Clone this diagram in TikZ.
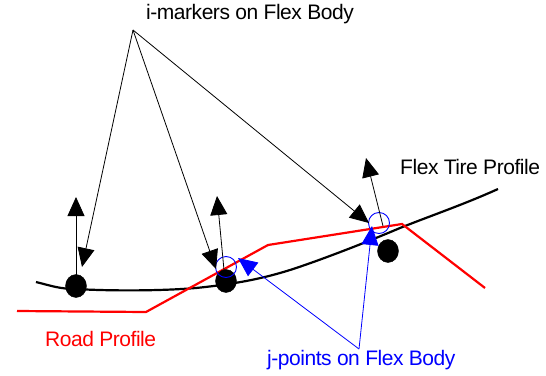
\documentclass[tikz,border=0pt]{standalone}
\usepackage{fontspec}
\setmainfont[LetterSpace=-2.2]{Liberation Sans}
\usetikzlibrary{arrows.meta,shapes.geometric}

\begin{document}
\begin{tikzpicture}[
    x=1pt, y=-1pt,
    font=\fontsize{21}{24}\selectfont,
    >={Triangle[length=19pt, width=17pt]},
    label/.style={inner sep=0pt, anchor=west},
    ball/.style={draw, fill=black, ellipse, minimum width=21pt, minimum height=23pt, inner sep=0pt},
    ring/.style={draw=blue, circle, line width=0.9pt, minimum size=21pt, inner sep=0pt},
    marker/.style={->, draw=black, line width=0.8pt},
    point/.style={->, draw=blue, line width=0.8pt, color=blue},
    profile/.style={line width=2.2pt, line join=miter}
  ]
    \useasboundingbox (0,0) rectangle (546,375);

    \node[label] (imarkers) at (146,14) {i-markers on Flex Body};
    \node[label] (tire) at (400,167) {Flex Tire Profile};
    \node[label, text=red] (road) at (45,339) {Road Profile};
    \node[label, text=blue] (jpoints) at (267,360) {j-points on Flex Body};

    \coordinate (iapex) at (133,30);
    \coordinate (japex) at (359,349);

    % flex tire profile
    \draw[profile, black] (36,282) .. controls (52,286) and (60,289) .. (76,289)
      .. controls (110,291) and (160,291) .. (196,288)
      .. controls (225,285) and (255,281) .. (290,270)
      .. controls (315,262) and (360,245) .. (400,228)
      .. controls (430,216) and (465,204) .. (498,189);
    % road profile
    \draw[profile, red] (17,311) -- (146,312) -- (268,245) -- (402,224) -- (485,288);

    \node[ball] (balla) at (76,286) {};
    \node[ball] (ballb) at (226,281) {};
    \node[ball] (ballc) at (388,251) {};
    \node[ring] (ringb) at (226,267) {};
    \node[ring] (ringc) at (379,223) {};

    \coordinate (ibase) at (76,276);
    \coordinate (itop) at (76,197);
    \coordinate (jbase) at (224,270);
    \coordinate (jtop) at (217,196);
    \coordinate (kbase) at (383,226);
    \coordinate (ktop) at (366,158);

    \draw[marker] (ibase) -- (itop);
    \draw[marker] (jbase) -- (jtop);
    \draw[marker] (kbase) -- (ktop);

    \coordinate (itipa) at (82,267);
    \coordinate (itipb) at (216,269);
    \coordinate (itipc) at (369,223);
    \foreach \tip in {itipa,itipb,itipc}
      \draw[marker] (iapex) -- (\tip);

    \coordinate (jtipb) at (238,258);
    \coordinate (jtipc) at (372,226);
    \foreach \tip in {jtipb,jtipc}
      \draw[point] (japex) -- (\tip);
  \end{tikzpicture}
\end{document}
